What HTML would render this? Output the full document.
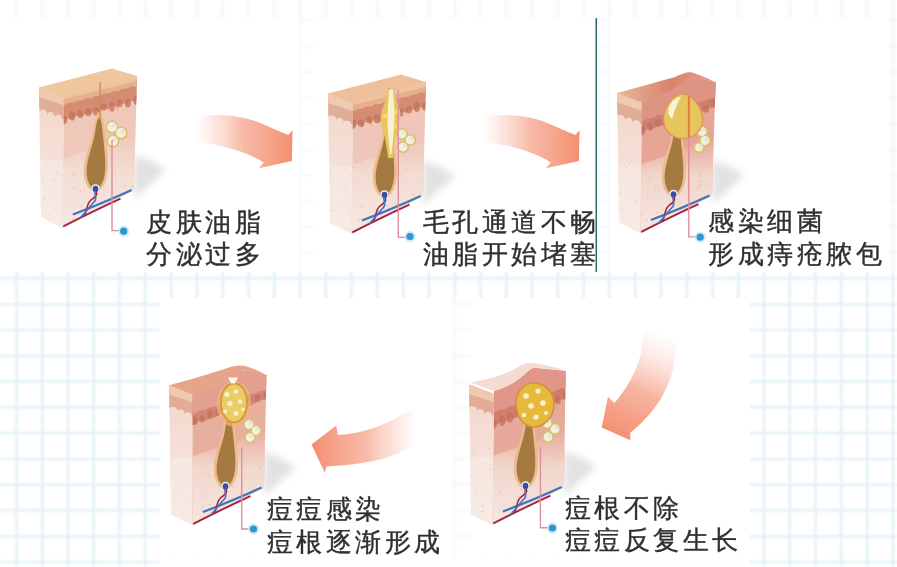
<!DOCTYPE html>
<html><head><meta charset="utf-8"><style>
html,body{margin:0;padding:0}
body{width:897px;height:567px;overflow:hidden;position:relative;background:#fff;font-family:"Liberation Sans",sans-serif}
.t{position:absolute;font-size:26px;line-height:32.5px;letter-spacing:3.6px;color:#303030;-webkit-text-stroke:0.4px #303030;white-space:nowrap}
svg{position:absolute;left:0;top:0}
</style></head><body>
<svg width="897" height="567" viewBox="0 0 897 567">
<defs>
<linearGradient id="leftface" x1="0" y1="0" x2="0" y2="1"><stop offset="0" stop-color="#f3d6ca"/><stop offset="1" stop-color="#f7ebe5"/></linearGradient>
<linearGradient id="frontface" x1="0" y1="0" x2="0" y2="1"><stop offset="0" stop-color="#eec0b2"/><stop offset="0.6" stop-color="#f1cdc0"/><stop offset="1" stop-color="#f4e0d6"/></linearGradient>
<linearGradient id="arrowH" gradientUnits="userSpaceOnUse" x1="195" y1="0" x2="292" y2="0"><stop offset="0" stop-color="#f9c8b8" stop-opacity="0"/><stop offset="0.2" stop-color="#f8bba8" stop-opacity="0.35"/><stop offset="0.5" stop-color="#f6a890" stop-opacity="0.8"/><stop offset="1" stop-color="#f38f70"/></linearGradient>
<linearGradient id="arrowD" gradientUnits="userSpaceOnUse" x1="662" y1="332" x2="615" y2="435"><stop offset="0" stop-color="#f9c8b8" stop-opacity="0"/><stop offset="0.25" stop-color="#f8bba8" stop-opacity="0.35"/><stop offset="0.55" stop-color="#f6a890" stop-opacity="0.85"/><stop offset="1" stop-color="#f38f70"/></linearGradient>
<linearGradient id="arrowL" gradientUnits="userSpaceOnUse" x1="418" y1="0" x2="312" y2="0"><stop offset="0" stop-color="#f9c8b8" stop-opacity="0"/><stop offset="0.2" stop-color="#f8bba8" stop-opacity="0.35"/><stop offset="0.5" stop-color="#f6a890" stop-opacity="0.8"/><stop offset="1" stop-color="#f38f70"/></linearGradient>
<linearGradient id="lowerderm" x1="0" y1="0" x2="0" y2="1"><stop offset="0" stop-color="#f3ddd3" stop-opacity="0"/><stop offset="0.35" stop-color="#f4e2d9" stop-opacity="0.8"/><stop offset="1" stop-color="#f7ebe5"/></linearGradient>
<linearGradient id="shadow" x1="0" y1="0" x2="1" y2="0"><stop offset="0" stop-color="#9a9a9a" stop-opacity="0.7"/><stop offset="1" stop-color="#cfcfcf" stop-opacity="0"/></linearGradient>
<filter id="blur5" x="-50%" y="-50%" width="200%" height="200%"><feGaussianBlur stdDeviation="5"/></filter>
<filter id="blur35" x="-50%" y="-50%" width="200%" height="200%"><feGaussianBlur stdDeviation="3.5"/></filter>
<filter id="blur4" x="-50%" y="-50%" width="200%" height="200%"><feGaussianBlur stdDeviation="4"/></filter>
<filter id="blurA" x="-10%" y="-10%" width="120%" height="120%"><feGaussianBlur stdDeviation="0.7"/></filter>
<filter id="blurB" x="-5%" y="-5%" width="110%" height="110%"><feGaussianBlur stdDeviation="0.45"/></filter>
<filter id="blur1"><feGaussianBlur stdDeviation="0.8"/></filter>
</defs>
<g fill="#e0f0f8" filter="url(#blur1)"><rect x="15.3" y="0" width="2.3" height="567"/><rect x="41.1" y="0" width="2.3" height="567"/><rect x="66.9" y="0" width="2.3" height="567"/><rect x="92.6" y="0" width="2.3" height="567"/><rect x="118.4" y="0" width="2.3" height="567"/><rect x="144.2" y="0" width="2.3" height="567"/><rect x="170.0" y="0" width="2.3" height="567"/><rect x="195.8" y="0" width="2.3" height="567"/><rect x="221.5" y="0" width="2.3" height="567"/><rect x="247.3" y="0" width="2.3" height="567"/><rect x="273.1" y="0" width="2.3" height="567"/><rect x="298.9" y="0" width="2.3" height="567"/><rect x="324.7" y="0" width="2.3" height="567"/><rect x="350.4" y="0" width="2.3" height="567"/><rect x="376.2" y="0" width="2.3" height="567"/><rect x="402.0" y="0" width="2.3" height="567"/><rect x="427.8" y="0" width="2.3" height="567"/><rect x="453.6" y="0" width="2.3" height="567"/><rect x="479.3" y="0" width="2.3" height="567"/><rect x="505.1" y="0" width="2.3" height="567"/><rect x="530.9" y="0" width="2.3" height="567"/><rect x="556.7" y="0" width="2.3" height="567"/><rect x="582.5" y="0" width="2.3" height="567"/><rect x="608.2" y="0" width="2.3" height="567"/><rect x="634.0" y="0" width="2.3" height="567"/><rect x="659.8" y="0" width="2.3" height="567"/><rect x="685.6" y="0" width="2.3" height="567"/><rect x="711.4" y="0" width="2.3" height="567"/><rect x="737.1" y="0" width="2.3" height="567"/><rect x="762.9" y="0" width="2.3" height="567"/><rect x="788.7" y="0" width="2.3" height="567"/><rect x="814.5" y="0" width="2.3" height="567"/><rect x="840.3" y="0" width="2.3" height="567"/><rect x="866.0" y="0" width="2.3" height="567"/><rect x="891.8" y="0" width="2.3" height="567"/><rect x="0" y="19.5" width="897" height="2.3"/><rect x="0" y="45.3" width="897" height="2.3"/><rect x="0" y="71.1" width="897" height="2.3"/><rect x="0" y="96.8" width="897" height="2.3"/><rect x="0" y="122.6" width="897" height="2.3"/><rect x="0" y="148.4" width="897" height="2.3"/><rect x="0" y="174.2" width="897" height="2.3"/><rect x="0" y="200.0" width="897" height="2.3"/><rect x="0" y="225.7" width="897" height="2.3"/><rect x="0" y="251.5" width="897" height="2.3"/><rect x="0" y="277.3" width="897" height="2.3"/><rect x="0" y="303.1" width="897" height="2.3"/><rect x="0" y="328.9" width="897" height="2.3"/><rect x="0" y="354.6" width="897" height="2.3"/><rect x="0" y="380.4" width="897" height="2.3"/><rect x="0" y="406.2" width="897" height="2.3"/><rect x="0" y="432.0" width="897" height="2.3"/><rect x="0" y="457.8" width="897" height="2.3"/><rect x="0" y="483.5" width="897" height="2.3"/><rect x="0" y="509.3" width="897" height="2.3"/><rect x="0" y="535.1" width="897" height="2.3"/><rect x="0" y="560.9" width="897" height="2.3"/></g>
<g fill="#ffffff">
<rect x="0" y="18" width="299" height="254"/>
<rect x="313" y="18" width="283" height="254"/>
<rect x="611" y="18" width="278" height="254"/>
<rect x="160" y="298" width="292" height="258"/>
<rect x="470" y="298" width="280" height="258"/>
</g>
<g fill="#ffffff" opacity="0.6">
<rect x="299" y="18" width="14" height="254"/>
<rect x="597" y="18" width="14" height="254"/>
<rect x="452" y="298" width="18" height="258"/>
</g>
<g fill="#ffffff" opacity="0.8">
<rect x="160" y="556" width="590" height="11"/>
</g>
<g fill="#ffffff" opacity="0.45">
<rect x="0" y="0" width="897" height="18"/>
<rect x="889" y="18" width="8" height="254"/>
</g>
<rect x="595.5" y="18" width="1.5" height="254" fill="#2f6a68"/>
<g transform="translate(0,0)" filter="url(#blurA)"><path d="M193,117 C220,112.5 246,116 266,125.5 C276,130 283,132.8 288.3,134.9 L292.5,130.2 L291.9,160.9 L258.9,168.3 L263.7,162.5 C252,155 236,149 214,144.5 C208,143.5 200,143 193,142.6 Z" fill="url(#arrowH)"/></g><g transform="translate(287,0)" filter="url(#blurA)"><path d="M193,117 C220,112.5 246,116 266,125.5 C276,130 283,132.8 288.3,134.9 L292.5,130.2 L291.9,160.9 L258.9,168.3 L263.7,162.5 C252,155 236,149 214,144.5 C208,143.5 200,143 193,142.6 Z" fill="url(#arrowH)"/></g>
<path filter="url(#blurA)" d="M677,330 C678,372 665,405 630.3,432.8 L630.3,440.2 L601.7,427.5 L608,396.7 L614.4,403.1 C630,385 643,362 644,330 Z" fill="url(#arrowD)"/>
<path filter="url(#blurA)" d="M418,404.6 C395,420 372,433 337.9,435 L336.2,425.5 L311.5,444.4 L324.7,472.6 L326.5,466.4 C365,465 395,458 416,444.3 Z" fill="url(#arrowL)"/>
<g filter="url(#blurB)"><g transform="translate(0,0)"><path d="M134,154 L152,161 L166,170 L134,199 Z" fill="#b4b4b4" opacity="0.38" filter="url(#blur35)"/><defs><clipPath id="ff1"><path d="M64,97 L137,76 L134,190 L62.5,228 Z"/></clipPath><clipPath id="lf1"><path d="M39,87.5 L64,97 L62.5,228 L41,217 Z"/></clipPath></defs><path d="M39,87.5 L64,97 L62.5,228 L41,217 Z" fill="url(#leftface)"/><g clip-path="url(#lf1)"><path d="M36,84 L66,95 L66,118 C64.1,116.0 61.1,120.5 62.2,120.5 C63.4,120.5 60.4,113.2 58.5,115.2 C56.6,113.2 53.6,118.5 54.8,118.5 C55.9,118.5 52.9,110.5 51.0,112.5 C49.1,110.5 46.1,115.4 47.2,115.4 C48.4,115.4 45.4,107.8 43.5,109.8 C41.6,107.8 38.6,113.2 39.8,113.2 C40.9,113.2 37.9,105.0 36.0,107.0 Z" fill="#e2ad98"/><path d="M36,84 L66,95 L66,106 L36,96 Z" fill="#efcaae"/><rect x="36" y="160" width="30" height="80" fill="#f7ebe5" opacity="0.6"/></g><g fill="#e2c6ba" opacity="0.7" clip-path="url(#lf1)"><circle cx="47.1" cy="161.8" r="0.7"/><circle cx="40.8" cy="191.8" r="0.6"/><circle cx="40.4" cy="189.6" r="0.4"/><circle cx="49.8" cy="155.4" r="0.5"/><circle cx="49.6" cy="214.5" r="0.5"/><circle cx="44.6" cy="198.9" r="0.9"/><circle cx="53.4" cy="180.9" r="0.9"/><circle cx="40.2" cy="217.0" r="0.6"/><circle cx="42.6" cy="159.2" r="0.6"/><circle cx="59.4" cy="164.1" r="0.7"/><circle cx="55.0" cy="179.0" r="0.7"/><circle cx="40.6" cy="154.6" r="0.5"/><circle cx="56.0" cy="183.4" r="0.6"/><circle cx="53.6" cy="185.3" r="0.6"/><circle cx="58.9" cy="204.5" r="0.5"/><circle cx="53.4" cy="191.0" r="0.8"/><circle cx="57.2" cy="172.5" r="0.9"/><circle cx="42.0" cy="182.6" r="0.8"/><circle cx="42.8" cy="188.1" r="0.4"/><circle cx="55.7" cy="209.6" r="0.7"/><circle cx="60.9" cy="174.5" r="0.8"/><circle cx="53.9" cy="195.2" r="0.6"/><circle cx="60.0" cy="223.7" r="0.7"/><circle cx="55.6" cy="154.7" r="0.8"/><circle cx="55.2" cy="227.5" r="0.8"/></g><path d="M64,97 L137,76 L134,190 L62.5,228 Z" fill="#f0c8ba"/><g clip-path="url(#ff1)"><path d="M60,160 L140,132 L140,240 L60,240 Z" fill="url(#lowerderm)"/><path d="M60,98 L140,76 L140,99 C137.8,97.0 134.2,105.4 135.6,105.4 C136.9,105.4 133.3,99.4 131.1,101.4 C128.9,99.4 125.3,107.2 126.7,107.2 C128.0,107.2 124.4,101.9 122.2,103.9 C120.0,101.9 116.4,110.5 117.8,110.5 C119.1,110.5 115.6,104.3 113.3,106.3 C111.1,104.3 107.6,110.9 108.9,110.9 C110.2,110.9 106.7,106.8 104.4,108.8 C102.2,106.8 98.7,115.3 100.0,115.3 C101.3,115.3 97.8,109.2 95.6,111.2 C93.3,109.2 89.8,116.8 91.1,116.8 C92.4,116.8 88.9,111.7 86.7,113.7 C84.4,111.7 80.9,120.0 82.2,120.0 C83.6,120.0 80.0,114.1 77.8,116.1 C75.6,114.1 72.0,121.0 73.3,121.0 C74.7,121.0 71.1,116.6 68.9,118.6 C66.7,116.6 63.1,124.0 64.4,124.0 C65.8,124.0 62.2,119.0 60.0,121.0 Z" fill="#d58c72"/><path d="M60,96 L140,74 L140,84 Q135.6,87.6 131.1,86.3 Q126.7,89.9 122.2,88.7 Q117.8,92.2 113.3,91.0 Q108.9,94.6 104.4,93.3 Q100.0,96.9 95.6,95.7 Q91.1,99.2 86.7,98.0 Q82.2,101.6 77.8,100.3 Q73.3,103.9 68.9,102.7 Q64.4,106.2 60.0,105.0 Z" fill="#e6b08a"/><path d="M60,92 L140,70 L140,80 L60,100 Z" fill="#eec49c"/><g fill="#c2735d" opacity="0.75"><ellipse cx="136.0" cy="99.8" rx="2.7" ry="4.9"/><ellipse cx="128.0" cy="103.1" rx="3.0" ry="4.5"/><ellipse cx="120.0" cy="103.1" rx="2.7" ry="3.9"/><ellipse cx="112.0" cy="106.8" rx="2.7" ry="5.0"/><ellipse cx="104.0" cy="107.1" rx="2.7" ry="3.6"/><ellipse cx="96.0" cy="111.4" rx="2.9" ry="4.2"/><ellipse cx="88.0" cy="112.3" rx="3.1" ry="4.1"/><ellipse cx="80.0" cy="114.1" rx="2.9" ry="4.0"/><ellipse cx="72.0" cy="116.0" rx="3.3" ry="4.5"/><ellipse cx="64.0" cy="119.9" rx="3.4" ry="4.1"/></g></g><g fill="#dfb6a8" opacity="0.7" clip-path="url(#ff1)"><circle cx="81.2" cy="206.6" r="0.8"/><circle cx="124.9" cy="172.6" r="0.5"/><circle cx="72.9" cy="175.3" r="0.8"/><circle cx="71.6" cy="196.1" r="0.5"/><circle cx="83.8" cy="189.3" r="0.8"/><circle cx="107.0" cy="161.0" r="0.6"/><circle cx="72.9" cy="219.2" r="0.8"/><circle cx="121.6" cy="216.2" r="0.8"/><circle cx="132.2" cy="214.0" r="0.5"/><circle cx="124.9" cy="193.1" r="0.8"/><circle cx="103.7" cy="189.2" r="0.6"/><circle cx="93.8" cy="181.3" r="0.5"/><circle cx="122.7" cy="214.3" r="0.9"/><circle cx="113.1" cy="197.7" r="0.8"/><circle cx="72.0" cy="206.0" r="0.6"/><circle cx="75.1" cy="173.8" r="0.7"/><circle cx="80.7" cy="191.2" r="0.7"/><circle cx="91.3" cy="168.9" r="0.7"/><circle cx="79.4" cy="176.0" r="0.5"/><circle cx="89.1" cy="165.0" r="0.7"/><circle cx="132.6" cy="186.5" r="0.8"/><circle cx="131.0" cy="162.9" r="0.5"/><circle cx="121.7" cy="217.0" r="0.7"/><circle cx="73.8" cy="188.1" r="0.8"/><circle cx="127.6" cy="214.6" r="0.5"/><circle cx="125.2" cy="185.5" r="0.8"/><circle cx="72.1" cy="226.0" r="0.7"/><circle cx="115.5" cy="174.4" r="0.7"/><circle cx="105.0" cy="200.2" r="0.6"/><circle cx="115.8" cy="183.2" r="0.6"/><circle cx="74.2" cy="206.5" r="0.5"/><circle cx="78.7" cy="164.7" r="0.7"/><circle cx="103.2" cy="196.9" r="0.4"/><circle cx="94.5" cy="183.3" r="0.5"/><circle cx="62.2" cy="227.9" r="0.5"/><circle cx="84.3" cy="178.3" r="0.7"/><circle cx="67.7" cy="192.0" r="0.6"/><circle cx="123.8" cy="160.4" r="0.6"/><circle cx="98.7" cy="225.9" r="0.7"/><circle cx="97.1" cy="205.5" r="0.6"/></g><path d="M39,87.5 L112,68.5 L137,76 L64,97 Z" fill="#efc69e"/><path d="M99,112 C103,112 104,122 105,132 C107,148 109,162 107.6,172 C106.5,184 101,191.5 95.5,191.5 C89.5,191.5 84,184 83.8,172 C83.6,158 90,146 93,132 C95,122 96,112 99,112 Z" fill="#edbb8e"/><path d="M99,118 C101.5,118 102,126 102.8,134 C104.5,150 106,162 105,172 C104,182 100,188.5 95.5,188.5 C90.5,188.5 86.8,182 86.6,172 C86.4,160 92,148 94.8,134 C96.2,126 97,118 99,118 Z" fill="#a47a40"/><path d="M99.5,82 L101,82 L101,120 L99.5,120 Z" fill="#c98a50" opacity="0.8"/><ellipse cx="95.5" cy="188.5" rx="4" ry="4.2" fill="#e9eef6"/><ellipse cx="95.5" cy="189" rx="2.8" ry="3.2" fill="#34509e"/><g fill="#f1ead2" stroke="#d9c06e" stroke-width="2.2"><circle cx="112" cy="127" r="5.5"/><circle cx="121" cy="133" r="5.5"/><circle cx="113" cy="141" r="5.5"/></g><g fill="#f4eedb"><circle cx="112" cy="127" r="4.9"/><circle cx="121" cy="133" r="4.9"/><circle cx="113" cy="141" r="4.9"/></g><g fill="#dfe6e2"><circle cx="113.5" cy="125.5" r="2"/><circle cx="122.5" cy="131.5" r="2"/><circle cx="114.5" cy="139.5" r="2"/></g><path d="M63.3,226.4 C80,218 100,208 120.5,198.7" stroke="#a8243a" stroke-width="1.9" fill="none"/><path d="M72.9,214.5 C95,206 114,198 131.6,189.9" stroke="#3f73bf" stroke-width="2.2" fill="none"/><path d="M84,216 C88,210 86,204 91,200 C95,197 98,195 96,191" stroke="#a8243a" stroke-width="1.6" fill="none"/><path d="M80,218 C86,212 90,206 94,202 C98,198 94,195 95,191" stroke="#4172c0" stroke-width="1.6" fill="none"/></g><path d="M112,140 L112,230.6 L119.7,230.6" stroke="#e08e9a" stroke-width="1.4" fill="none"/><circle cx="123.7" cy="231.2" r="5.5" fill="#bfe6f7" opacity="0.8"/><circle cx="123.7" cy="231.2" r="3.6" fill="#2f97d0"/><g transform="translate(289,6)"><path d="M134,154 L152,161 L166,170 L134,199 Z" fill="#b4b4b4" opacity="0.38" filter="url(#blur35)"/><defs><clipPath id="ff2"><path d="M64,97 L137,76 L134,190 L62.5,228 Z"/></clipPath><clipPath id="lf2"><path d="M39,87.5 L64,97 L62.5,228 L41,217 Z"/></clipPath></defs><path d="M39,87.5 L64,97 L62.5,228 L41,217 Z" fill="url(#leftface)"/><g clip-path="url(#lf2)"><path d="M36,84 L66,95 L66,118 C64.1,116.0 61.1,119.2 62.2,119.2 C63.4,119.2 60.4,113.2 58.5,115.2 C56.6,113.2 53.6,116.8 54.8,116.8 C55.9,116.8 52.9,110.5 51.0,112.5 C49.1,110.5 46.1,113.8 47.2,113.8 C48.4,113.8 45.4,107.8 43.5,109.8 C41.6,107.8 38.6,112.1 39.8,112.1 C40.9,112.1 37.9,105.0 36.0,107.0 Z" fill="#e2ad98"/><path d="M36,84 L66,95 L66,106 L36,96 Z" fill="#efcaae"/><rect x="36" y="160" width="30" height="80" fill="#f7ebe5" opacity="0.6"/></g><g fill="#e2c6ba" opacity="0.7" clip-path="url(#lf2)"><circle cx="41.7" cy="204.8" r="0.7"/><circle cx="62.5" cy="171.1" r="0.5"/><circle cx="57.4" cy="201.4" r="0.6"/><circle cx="56.1" cy="180.9" r="0.8"/><circle cx="42.0" cy="167.4" r="0.9"/><circle cx="48.0" cy="170.3" r="0.8"/><circle cx="54.8" cy="161.7" r="0.7"/><circle cx="55.6" cy="162.9" r="0.7"/><circle cx="42.1" cy="176.3" r="0.5"/><circle cx="44.1" cy="226.3" r="0.6"/><circle cx="63.8" cy="184.2" r="0.7"/><circle cx="60.8" cy="203.6" r="0.5"/><circle cx="53.7" cy="199.4" r="0.5"/><circle cx="41.4" cy="218.2" r="0.7"/><circle cx="43.8" cy="185.3" r="0.5"/><circle cx="59.0" cy="189.0" r="0.5"/><circle cx="59.5" cy="157.0" r="0.6"/><circle cx="39.7" cy="207.7" r="0.5"/><circle cx="52.1" cy="157.3" r="0.7"/><circle cx="56.1" cy="191.7" r="0.6"/><circle cx="51.1" cy="184.1" r="0.7"/><circle cx="41.4" cy="187.0" r="0.5"/><circle cx="60.6" cy="223.2" r="0.5"/><circle cx="42.6" cy="204.9" r="0.7"/><circle cx="39.5" cy="205.0" r="0.9"/></g><path d="M64,97 L137,76 L134,190 L62.5,228 Z" fill="#efc6b8"/><g clip-path="url(#ff2)"><path d="M60,160 L140,132 L140,240 L60,240 Z" fill="url(#lowerderm)"/><path d="M60,98 L140,76 L140,99 C137.8,97.0 134.2,105.5 135.6,105.5 C136.9,105.5 133.3,99.4 131.1,101.4 C128.9,99.4 125.3,106.1 126.7,106.1 C128.0,106.1 124.4,101.9 122.2,103.9 C120.0,101.9 116.4,108.8 117.8,108.8 C119.1,108.8 115.6,104.3 113.3,106.3 C111.1,104.3 107.6,112.6 108.9,112.6 C110.2,112.6 106.7,106.8 104.4,108.8 C102.2,106.8 98.7,114.2 100.0,114.2 C101.3,114.2 97.8,109.2 95.6,111.2 C93.3,109.2 89.8,118.5 91.1,118.5 C92.4,118.5 88.9,111.7 86.7,113.7 C84.4,111.7 80.9,120.5 82.2,120.5 C83.6,120.5 80.0,114.1 77.8,116.1 C75.6,114.1 72.0,123.2 73.3,123.2 C74.7,123.2 71.1,116.6 68.9,118.6 C66.7,116.6 63.1,124.2 64.4,124.2 C65.8,124.2 62.2,119.0 60.0,121.0 Z" fill="#d58c72"/><path d="M60,96 L140,74 L140,84 Q135.6,87.6 131.1,86.3 Q126.7,89.9 122.2,88.7 Q117.8,92.2 113.3,91.0 Q108.9,94.6 104.4,93.3 Q100.0,96.9 95.6,95.7 Q91.1,99.2 86.7,98.0 Q82.2,101.6 77.8,100.3 Q73.3,103.9 68.9,102.7 Q64.4,106.2 60.0,105.0 Z" fill="#e6b08a"/><path d="M60,92 L140,70 L140,80 L60,100 Z" fill="#eec49c"/><g fill="#c2735d" opacity="0.75"><ellipse cx="136.0" cy="100.4" rx="3.1" ry="4.1"/><ellipse cx="128.0" cy="100.9" rx="3.2" ry="5.0"/><ellipse cx="120.0" cy="103.8" rx="3.4" ry="3.6"/><ellipse cx="112.0" cy="106.3" rx="2.7" ry="4.2"/><ellipse cx="104.0" cy="108.7" rx="3.4" ry="4.3"/><ellipse cx="96.0" cy="111.7" rx="2.8" ry="3.7"/><ellipse cx="88.0" cy="112.7" rx="3.2" ry="4.6"/><ellipse cx="80.0" cy="113.6" rx="2.7" ry="3.9"/><ellipse cx="72.0" cy="117.1" rx="3.4" ry="3.9"/><ellipse cx="64.0" cy="118.0" rx="3.4" ry="4.8"/></g></g><g fill="#dfb6a8" opacity="0.7" clip-path="url(#ff2)"><circle cx="117.3" cy="173.8" r="0.5"/><circle cx="106.5" cy="163.9" r="0.8"/><circle cx="118.6" cy="162.8" r="0.8"/><circle cx="99.2" cy="203.2" r="0.9"/><circle cx="135.0" cy="187.8" r="0.8"/><circle cx="120.2" cy="226.1" r="0.4"/><circle cx="131.4" cy="175.1" r="0.5"/><circle cx="106.2" cy="217.0" r="0.9"/><circle cx="89.0" cy="216.3" r="0.4"/><circle cx="133.7" cy="180.0" r="0.7"/><circle cx="71.2" cy="163.0" r="0.4"/><circle cx="106.4" cy="198.2" r="0.8"/><circle cx="125.0" cy="188.8" r="0.8"/><circle cx="76.9" cy="219.9" r="0.5"/><circle cx="131.5" cy="186.1" r="0.6"/><circle cx="100.4" cy="164.0" r="0.5"/><circle cx="102.3" cy="208.6" r="0.4"/><circle cx="92.1" cy="185.2" r="0.8"/><circle cx="135.3" cy="166.2" r="0.7"/><circle cx="69.7" cy="213.3" r="0.9"/><circle cx="114.3" cy="199.5" r="0.4"/><circle cx="69.1" cy="176.3" r="0.5"/><circle cx="71.9" cy="225.2" r="0.6"/><circle cx="129.1" cy="211.7" r="0.8"/><circle cx="129.6" cy="207.5" r="0.6"/><circle cx="96.8" cy="186.5" r="0.4"/><circle cx="65.3" cy="198.6" r="0.7"/><circle cx="134.0" cy="202.2" r="0.8"/><circle cx="97.3" cy="199.6" r="0.8"/><circle cx="64.5" cy="161.3" r="0.6"/><circle cx="83.6" cy="189.1" r="0.5"/><circle cx="74.5" cy="166.7" r="0.7"/><circle cx="64.4" cy="161.4" r="0.8"/><circle cx="93.3" cy="161.5" r="0.9"/><circle cx="98.3" cy="223.7" r="0.7"/><circle cx="102.5" cy="186.9" r="0.5"/><circle cx="133.5" cy="189.9" r="0.6"/><circle cx="72.8" cy="200.5" r="0.9"/><circle cx="91.7" cy="214.9" r="0.8"/><circle cx="100.1" cy="204.4" r="0.8"/></g><path d="M39,87.5 L112,68.5 L137,76 L64,97 Z" fill="#eebf9b"/><path d="M99,112 C103,112 104,122 105,132 C107,148 109,162 107.6,172 C106.5,184 101,191.5 95.5,191.5 C89.5,191.5 84,184 83.8,172 C83.6,158 90,146 93,132 C95,122 96,112 99,112 Z" fill="#edbb8e"/><path d="M99,118 C101.5,118 102,126 102.8,134 C104.5,150 106,162 105,172 C104,182 100,188.5 95.5,188.5 C90.5,188.5 86.8,182 86.6,172 C86.4,160 92,148 94.8,134 C96.2,126 97,118 99,118 Z" fill="#a47a40"/><path d="M99.5,82 L101,82 L101,120 L99.5,120 Z" fill="#c98a50" opacity="0.8"/><ellipse cx="95.5" cy="188.5" rx="4" ry="4.2" fill="#e9eef6"/><ellipse cx="95.5" cy="189" rx="2.8" ry="3.2" fill="#34509e"/><g fill="#f1ead2" stroke="#d9c06e" stroke-width="2.2"><circle cx="113" cy="128" r="5"/><circle cx="121" cy="134" r="5"/><circle cx="114" cy="141" r="5"/></g><g fill="#f4eedb"><circle cx="113" cy="128" r="4.4"/><circle cx="121" cy="134" r="4.4"/><circle cx="114" cy="141" r="4.4"/></g><g fill="#dfe6e2"><circle cx="114.5" cy="126.5" r="2"/><circle cx="122.5" cy="132.5" r="2"/><circle cx="115.5" cy="139.5" r="2"/></g><path d="M99,84 C101,82 104,82 105,84 C106,92 109,98 111,104 C112,110 110,118 108,124 C106,132 105,142 104,152 L99,152 C98,142 96,132 94,124 C92,118 91,110 93,104 C95,98 98,92 99,84 Z" fill="#e8c65a"/><path d="M100,84 C101,83 103,83 104,84 C104.5,94 106,104 105.5,114 C105,126 103.5,138 102.5,148 L101,148 C100,138 98.5,126 98.5,114 C98.5,104 99.5,94 100,84 Z" fill="#f8f0d0"/><g fill="#f3dd8c"><circle cx="96" cy="110" r="2"/><circle cx="108" cy="106" r="2"/><circle cx="106" cy="120" r="1.8"/></g><path d="M63.3,226.4 C80,218 100,208 120.5,198.7" stroke="#a8243a" stroke-width="1.9" fill="none"/><path d="M72.9,214.5 C95,206 114,198 131.6,189.9" stroke="#3f73bf" stroke-width="2.2" fill="none"/><path d="M84,216 C88,210 86,204 91,200 C95,197 98,195 96,191" stroke="#a8243a" stroke-width="1.6" fill="none"/><path d="M80,218 C86,212 90,206 94,202 C98,198 94,195 95,191" stroke="#4172c0" stroke-width="1.6" fill="none"/></g><path d="M398.3,90 L398.3,237.4 L406,237.4" stroke="#e08e9a" stroke-width="1.4" fill="none"/><circle cx="410" cy="236.5" r="5.5" fill="#bfe6f7" opacity="0.8"/><circle cx="410" cy="236.5" r="3.6" fill="#2f97d0"/><g transform="translate(578,5.5)"><path d="M134,154 L152,161 L166,170 L134,199 Z" fill="#b4b4b4" opacity="0.38" filter="url(#blur35)"/><defs><clipPath id="ff3"><path d="M64,97 C78,93 92,86 102,80 C108,74 112,71 116,72 C124,73 131,75 137.6,77 L134,190 L62.5,228 Z"/></clipPath><clipPath id="lf3"><path d="M39,87.5 L64,97 L62.5,228 L41,217 Z"/></clipPath></defs><path d="M39,87.5 L64,97 L62.5,228 L41,217 Z" fill="url(#leftface)"/><g clip-path="url(#lf3)"><path d="M36,84 L66,95 L66,118 C64.1,116.0 61.1,119.2 62.2,119.2 C63.4,119.2 60.4,113.2 58.5,115.2 C56.6,113.2 53.6,117.9 54.8,117.9 C55.9,117.9 52.9,110.5 51.0,112.5 C49.1,110.5 46.1,115.5 47.2,115.5 C48.4,115.5 45.4,107.8 43.5,109.8 C41.6,107.8 38.6,110.9 39.8,110.9 C40.9,110.9 37.9,105.0 36.0,107.0 Z" fill="#e2ad98"/><path d="M36,84 L66,95 L66,106 L36,96 Z" fill="#efcaae"/><rect x="36" y="160" width="30" height="80" fill="#f7ebe5" opacity="0.6"/></g><g fill="#e2c6ba" opacity="0.7" clip-path="url(#lf3)"><circle cx="43.1" cy="203.8" r="0.7"/><circle cx="51.0" cy="166.8" r="0.8"/><circle cx="59.2" cy="190.0" r="0.7"/><circle cx="44.9" cy="150.2" r="0.6"/><circle cx="53.6" cy="155.4" r="0.8"/><circle cx="44.8" cy="168.2" r="0.4"/><circle cx="63.9" cy="207.6" r="0.8"/><circle cx="54.4" cy="152.7" r="0.6"/><circle cx="51.4" cy="159.0" r="0.9"/><circle cx="48.2" cy="162.1" r="0.8"/><circle cx="42.1" cy="222.4" r="0.6"/><circle cx="52.8" cy="176.7" r="0.7"/><circle cx="43.7" cy="152.9" r="0.8"/><circle cx="44.9" cy="210.9" r="0.5"/><circle cx="63.2" cy="219.7" r="0.8"/><circle cx="58.1" cy="195.3" r="0.8"/><circle cx="42.1" cy="187.2" r="0.8"/><circle cx="44.0" cy="222.0" r="0.9"/><circle cx="49.2" cy="178.5" r="0.6"/><circle cx="48.6" cy="227.6" r="0.6"/><circle cx="39.7" cy="157.3" r="0.8"/><circle cx="63.8" cy="188.7" r="0.7"/><circle cx="52.8" cy="208.4" r="0.5"/><circle cx="54.2" cy="193.4" r="0.7"/><circle cx="43.5" cy="163.3" r="0.6"/></g><path d="M64,97 C78,93 92,86 102,80 C108,74 112,71 116,72 C124,73 131,75 137.6,77 L134,190 L62.5,228 Z" fill="#e6a595"/><g clip-path="url(#ff3)"><path d="M60,160 L140,132 L140,240 L60,240 Z" fill="url(#lowerderm)"/><path d="M60,96 C78,93 92,86 102,80 C108,74 112,71 116,72 C124,73 131,75 140,77 L140,98 Q135.0,104.8 130.0,101.5 Q125.0,108.2 120.0,105.0 Q115.0,111.8 110.0,108.5 Q105.0,115.2 100.0,112.0 Q95.0,118.8 90.0,115.5 Q85.0,122.2 80.0,119.0 Q75.0,125.8 70.0,122.5 Q65.0,129.2 60.0,126.0 Z" fill="#cf7f6e"/><path d="M60,96 C78,93 92,86 102,80 C108,74 112,71 116,72 C124,73 131,75 140,77 L140,90 Q135.0,94.0 130.0,93.2 Q125.0,97.3 120.0,96.5 Q115.0,100.5 110.0,99.8 Q105.0,103.8 100.0,103.0 Q95.0,107.0 90.0,106.2 Q85.0,110.3 80.0,109.5 Q75.0,113.5 70.0,112.8 Q65.0,116.8 60.0,116.0 Z" fill="#dc9483"/><g fill="#c2735d" opacity="0.75"><ellipse cx="136.0" cy="97.5" rx="3.5" ry="3.8"/><ellipse cx="128.0" cy="103.2" rx="3.4" ry="3.9"/><ellipse cx="120.0" cy="104.5" rx="2.9" ry="4.1"/><ellipse cx="112.0" cy="108.2" rx="3.3" ry="3.9"/><ellipse cx="104.0" cy="110.2" rx="3.2" ry="4.4"/><ellipse cx="96.0" cy="111.8" rx="2.9" ry="4.2"/><ellipse cx="88.0" cy="117.0" rx="3.3" ry="4.5"/><ellipse cx="80.0" cy="117.8" rx="3.4" ry="3.8"/><ellipse cx="72.0" cy="120.8" rx="2.7" ry="4.4"/><ellipse cx="64.0" cy="125.0" rx="3.2" ry="4.7"/></g></g><g fill="#dfb6a8" opacity="0.7" clip-path="url(#ff3)"><circle cx="77.5" cy="186.2" r="0.5"/><circle cx="91.3" cy="198.3" r="0.7"/><circle cx="80.8" cy="184.2" r="0.5"/><circle cx="122.3" cy="180.0" r="0.9"/><circle cx="67.5" cy="160.6" r="0.6"/><circle cx="93.2" cy="211.2" r="0.8"/><circle cx="100.0" cy="180.4" r="0.8"/><circle cx="96.1" cy="177.5" r="0.6"/><circle cx="62.0" cy="208.2" r="0.4"/><circle cx="75.9" cy="202.1" r="0.7"/><circle cx="107.8" cy="203.1" r="0.8"/><circle cx="131.9" cy="225.8" r="0.6"/><circle cx="88.0" cy="169.2" r="0.6"/><circle cx="74.8" cy="223.5" r="0.8"/><circle cx="79.4" cy="207.0" r="0.8"/><circle cx="69.3" cy="215.0" r="0.8"/><circle cx="97.0" cy="224.2" r="0.5"/><circle cx="64.5" cy="209.2" r="0.7"/><circle cx="62.3" cy="201.2" r="0.7"/><circle cx="90.0" cy="168.6" r="0.8"/><circle cx="128.0" cy="197.8" r="0.5"/><circle cx="102.1" cy="203.9" r="0.7"/><circle cx="121.4" cy="175.4" r="0.9"/><circle cx="115.1" cy="168.9" r="0.5"/><circle cx="119.6" cy="182.5" r="0.9"/><circle cx="130.9" cy="179.1" r="0.8"/><circle cx="78.1" cy="194.1" r="0.5"/><circle cx="121.1" cy="169.7" r="0.9"/><circle cx="88.8" cy="179.4" r="0.4"/><circle cx="77.6" cy="164.3" r="0.5"/><circle cx="134.5" cy="204.6" r="0.5"/><circle cx="69.9" cy="191.2" r="0.8"/><circle cx="95.6" cy="184.2" r="0.7"/><circle cx="71.3" cy="172.5" r="0.7"/><circle cx="123.7" cy="191.5" r="0.6"/><circle cx="101.7" cy="214.5" r="0.5"/><circle cx="73.1" cy="193.9" r="0.6"/><circle cx="72.8" cy="174.4" r="0.8"/><circle cx="77.0" cy="183.1" r="0.9"/><circle cx="89.6" cy="224.0" r="0.8"/></g><defs><linearGradient id="tg3" gradientUnits="userSpaceOnUse" x1="39" y1="0" x2="137" y2="0"><stop offset="0" stop-color="#eab79a"/><stop offset="0.55" stop-color="#d9826c"/><stop offset="1" stop-color="#e39e88"/></linearGradient></defs><path d="M39,87.5 C60,82 80,76 96,72 C104,68 110,66 114,67 C124,70 132,74 137.6,77 C131,75 124,73 116,72 C112,71 108,74 102,80 C92,86 78,93 64,97 Z" fill="url(#tg3)"/><path d="M99,112 C103,112 104,122 105,132 C107,148 109,162 107.6,172 C106.5,184 101,191.5 95.5,191.5 C89.5,191.5 84,184 83.8,172 C83.6,158 90,146 93,132 C95,122 96,112 99,112 Z" fill="#edbb8e"/><path d="M99,118 C101.5,118 102,126 102.8,134 C104.5,150 106,162 105,172 C104,182 100,188.5 95.5,188.5 C90.5,188.5 86.8,182 86.6,172 C86.4,160 92,148 94.8,134 C96.2,126 97,118 99,118 Z" fill="#a47a40"/><ellipse cx="95.5" cy="188.5" rx="4" ry="4.2" fill="#e9eef6"/><ellipse cx="95.5" cy="189" rx="2.8" ry="3.2" fill="#34509e"/><g fill="#f1ead2" stroke="#d9c06e" stroke-width="2.2"><circle cx="124" cy="126" r="5"/><circle cx="127" cy="135" r="5"/><circle cx="121" cy="142" r="4.5"/></g><g fill="#f4eedb"><circle cx="124" cy="126" r="4.4"/><circle cx="127" cy="135" r="4.4"/><circle cx="121" cy="142" r="3.9"/></g><g fill="#dfe6e2"><circle cx="125.5" cy="124.5" r="2"/><circle cx="128.5" cy="133.5" r="2"/><circle cx="122.5" cy="140.5" r="2"/></g><path d="M105,88.5 C114,89 123,100 124.5,112 C125.5,125 116,133 105,133 C94,133 85,125 85.5,112 C86.5,100 96,88 105,88.5 Z" fill="#e6c65c" stroke="#e0955a" stroke-width="1.4"/><path d="M90,108 C90,99 96,92 103,91 C99,98 96,106 94,114 Z" fill="#fbf3d8"/><path d="M63.3,226.4 C80,218 100,208 120.5,198.7" stroke="#a8243a" stroke-width="1.9" fill="none"/><path d="M72.9,214.5 C95,206 114,198 131.6,189.9" stroke="#3f73bf" stroke-width="2.2" fill="none"/><path d="M84,216 C88,210 86,204 91,200 C95,197 98,195 96,191" stroke="#a8243a" stroke-width="1.6" fill="none"/><path d="M80,218 C86,212 90,206 94,202 C98,198 94,195 95,191" stroke="#4172c0" stroke-width="1.6" fill="none"/></g><path d="M688.8,95.5 L688.8,236.9 L696.2,236.9" stroke="#e08e9a" stroke-width="1.4" fill="none"/><path d="M688.8,95.5 L688.8,137.5" stroke="#e27a3c" stroke-width="1.8" fill="none"/><circle cx="700.2" cy="237.2" r="5.5" fill="#bfe6f7" opacity="0.8"/><circle cx="700.2" cy="237.2" r="3.6" fill="#2f97d0"/><g transform="translate(130,297.5)"><path d="M134,154 L152,161 L166,170 L134,199 Z" fill="#b4b4b4" opacity="0.38" filter="url(#blur35)"/><defs><clipPath id="ff4"><path d="M62.7,97 C78,93 92,86 100,82 C106,76 110,73 114,73 C122,74 130,76 136.4,77.6 L134,190 L62.5,228 Z"/></clipPath><clipPath id="lf4"><path d="M39,87.5 L64,97 L62.5,228 L41,217 Z"/></clipPath></defs><path d="M39,87.5 L64,97 L62.5,228 L41,217 Z" fill="url(#leftface)"/><g clip-path="url(#lf4)"><path d="M36,84 L66,95 L66,118 C64.1,116.0 61.1,120.3 62.2,120.3 C63.4,120.3 60.4,113.2 58.5,115.2 C56.6,113.2 53.6,117.1 54.8,117.1 C55.9,117.1 52.9,110.5 51.0,112.5 C49.1,110.5 46.1,113.7 47.2,113.7 C48.4,113.7 45.4,107.8 43.5,109.8 C41.6,107.8 38.6,112.6 39.8,112.6 C40.9,112.6 37.9,105.0 36.0,107.0 Z" fill="#e2ad98"/><path d="M36,84 L66,95 L66,106 L36,96 Z" fill="#efcaae"/><rect x="36" y="160" width="30" height="80" fill="#f7ebe5" opacity="0.6"/></g><g fill="#e2c6ba" opacity="0.7" clip-path="url(#lf4)"><circle cx="41.8" cy="160.2" r="0.7"/><circle cx="43.5" cy="160.3" r="0.6"/><circle cx="49.4" cy="166.6" r="0.6"/><circle cx="60.1" cy="160.2" r="0.5"/><circle cx="39.7" cy="168.7" r="0.5"/><circle cx="63.6" cy="174.5" r="0.9"/><circle cx="42.2" cy="220.5" r="0.7"/><circle cx="56.3" cy="201.7" r="0.6"/><circle cx="44.8" cy="203.0" r="0.5"/><circle cx="39.3" cy="210.1" r="0.7"/><circle cx="45.5" cy="190.6" r="0.9"/><circle cx="46.0" cy="159.7" r="0.6"/><circle cx="43.2" cy="178.7" r="0.4"/><circle cx="58.1" cy="212.9" r="0.6"/><circle cx="48.4" cy="170.1" r="0.9"/><circle cx="60.9" cy="201.7" r="0.5"/><circle cx="43.3" cy="209.8" r="0.5"/><circle cx="56.2" cy="182.8" r="0.4"/><circle cx="43.9" cy="221.2" r="0.6"/><circle cx="55.9" cy="209.4" r="0.6"/><circle cx="51.5" cy="217.1" r="0.8"/><circle cx="52.0" cy="192.5" r="0.6"/><circle cx="49.7" cy="202.3" r="0.5"/><circle cx="60.6" cy="173.0" r="0.5"/><circle cx="63.1" cy="151.2" r="0.6"/></g><path d="M62.7,97 C78,93 92,86 100,82 C106,76 110,73 114,73 C122,74 130,76 136.4,77.6 L134,190 L62.5,228 Z" fill="#e8ae9e"/><g clip-path="url(#ff4)"><path d="M60,160 L140,132 L140,240 L60,240 Z" fill="url(#lowerderm)"/><path d="M60,96 C78,93 92,86 100,82 C106,76 110,73 114,73 C122,74 130,76 140,78 L140,98 Q135.0,104.8 130.0,101.5 Q125.0,108.2 120.0,105.0 Q115.0,111.8 110.0,108.5 Q105.0,115.2 100.0,112.0 Q95.0,118.8 90.0,115.5 Q85.0,122.2 80.0,119.0 Q75.0,125.8 70.0,122.5 Q65.0,129.2 60.0,126.0 Z" fill="#d3857a"/><path d="M60,96 C78,93 92,86 100,82 C106,76 110,73 114,73 C122,74 130,76 140,78 L140,90 Q135.0,94.0 130.0,93.2 Q125.0,97.3 120.0,96.5 Q115.0,100.5 110.0,99.8 Q105.0,103.8 100.0,103.0 Q95.0,107.0 90.0,106.2 Q85.0,110.3 80.0,109.5 Q75.0,113.5 70.0,112.8 Q65.0,116.8 60.0,116.0 Z" fill="#e3a08e"/><g fill="#c2735d" opacity="0.75"><ellipse cx="136.0" cy="97.7" rx="2.9" ry="3.5"/><ellipse cx="128.0" cy="100.5" rx="3.1" ry="4.0"/><ellipse cx="120.0" cy="104.2" rx="2.6" ry="4.8"/><ellipse cx="112.0" cy="107.8" rx="3.0" ry="4.3"/><ellipse cx="104.0" cy="109.1" rx="3.1" ry="4.6"/><ellipse cx="96.0" cy="112.0" rx="2.6" ry="4.3"/><ellipse cx="88.0" cy="114.6" rx="2.9" ry="3.9"/><ellipse cx="80.0" cy="117.1" rx="2.8" ry="4.7"/><ellipse cx="72.0" cy="121.4" rx="2.7" ry="3.6"/><ellipse cx="64.0" cy="122.9" rx="3.5" ry="4.6"/></g></g><g fill="#dfb6a8" opacity="0.7" clip-path="url(#ff4)"><circle cx="134.4" cy="163.7" r="0.8"/><circle cx="97.8" cy="224.0" r="0.6"/><circle cx="130.0" cy="170.8" r="0.9"/><circle cx="92.6" cy="172.5" r="0.6"/><circle cx="108.7" cy="162.3" r="0.6"/><circle cx="62.8" cy="164.7" r="0.5"/><circle cx="79.1" cy="178.7" r="0.8"/><circle cx="92.8" cy="218.3" r="0.9"/><circle cx="128.2" cy="224.4" r="0.7"/><circle cx="111.7" cy="219.9" r="0.7"/><circle cx="72.5" cy="195.4" r="0.7"/><circle cx="75.3" cy="166.3" r="0.5"/><circle cx="113.6" cy="215.2" r="0.7"/><circle cx="93.6" cy="161.9" r="0.4"/><circle cx="110.5" cy="196.0" r="0.6"/><circle cx="74.7" cy="168.4" r="0.5"/><circle cx="71.5" cy="200.8" r="0.6"/><circle cx="103.1" cy="189.2" r="0.7"/><circle cx="117.1" cy="213.1" r="0.5"/><circle cx="133.0" cy="218.0" r="0.8"/><circle cx="95.5" cy="224.7" r="0.8"/><circle cx="79.7" cy="206.7" r="0.8"/><circle cx="117.7" cy="221.2" r="0.7"/><circle cx="111.7" cy="165.2" r="0.7"/><circle cx="72.8" cy="209.2" r="0.9"/><circle cx="89.5" cy="164.8" r="0.4"/><circle cx="100.2" cy="170.6" r="0.8"/><circle cx="107.1" cy="194.0" r="0.7"/><circle cx="73.2" cy="191.2" r="0.4"/><circle cx="102.5" cy="214.0" r="0.5"/><circle cx="113.0" cy="227.6" r="0.6"/><circle cx="77.4" cy="177.2" r="0.8"/><circle cx="68.0" cy="212.8" r="0.5"/><circle cx="117.9" cy="220.3" r="0.8"/><circle cx="76.2" cy="197.3" r="0.6"/><circle cx="126.8" cy="180.1" r="0.5"/><circle cx="92.0" cy="165.9" r="0.5"/><circle cx="114.0" cy="182.2" r="0.5"/><circle cx="131.2" cy="177.7" r="0.8"/><circle cx="112.6" cy="197.8" r="0.7"/></g><path d="M39.2,87.7 C58,83 80,76 96,71 C104,68 108,68 112,68 C122,70 130,74 136.4,77.6 C130,76 122,74 114,73 C110,73 106,76 100,82 C92,86 78,93 62.7,97 Z" fill="#e6a58a"/><path d="M99,112 C103,112 104,122 105,132 C107,148 109,162 107.6,172 C106.5,184 101,191.5 95.5,191.5 C89.5,191.5 84,184 83.8,172 C83.6,158 90,146 93,132 C95,122 96,112 99,112 Z" fill="#edbb8e"/><path d="M99,118 C101.5,118 102,126 102.8,134 C104.5,150 106,162 105,172 C104,182 100,188.5 95.5,188.5 C90.5,188.5 86.8,182 86.6,172 C86.4,160 92,148 94.8,134 C96.2,126 97,118 99,118 Z" fill="#a47a40"/><ellipse cx="95.5" cy="188.5" rx="4" ry="4.2" fill="#e9eef6"/><ellipse cx="95.5" cy="189" rx="2.8" ry="3.2" fill="#34509e"/><g fill="#f1ead2" stroke="#d9c06e" stroke-width="2.2"><circle cx="119" cy="127" r="4.8"/><circle cx="126" cy="133" r="4.8"/><circle cx="120" cy="140" r="4.8"/></g><g fill="#f4eedb"><circle cx="119" cy="127" r="4.2"/><circle cx="126" cy="133" r="4.2"/><circle cx="120" cy="140" r="4.2"/></g><g fill="#dfe6e2"><circle cx="120.5" cy="125.5" r="2"/><circle cx="127.5" cy="131.5" r="2"/><circle cx="121.5" cy="138.5" r="2"/></g><ellipse cx="104" cy="106.5" rx="17.5" ry="23" fill="#eeb878" opacity="0.7"/><path d="M91,105 C91,93 97,86 104,86 C111,86 117,93 117,105 C117,117 111,125 104,125 C97,125 91,117 91,105 Z" fill="#e9cd66" stroke="#d9963e" stroke-width="2"/><path d="M98,80 L108,80 L105,86 L101,86 Z" fill="#fbf6ea"/><g fill="#fbf0c8"><circle cx="97" cy="97" r="2.6"/><circle cx="106" cy="94" r="2.3"/><circle cx="100" cy="106" r="2.6"/><circle cx="110" cy="104" r="2.3"/><circle cx="95" cy="114" r="2.1"/><circle cx="106" cy="116" r="2.4"/><circle cx="113" cy="112" r="1.8"/></g><path d="M63.3,226.4 C80,218 100,208 120.5,198.7" stroke="#a8243a" stroke-width="1.9" fill="none"/><path d="M72.9,214.5 C95,206 114,198 131.6,189.9" stroke="#3f73bf" stroke-width="2.2" fill="none"/><path d="M84,216 C88,210 86,204 91,200 C95,197 98,195 96,191" stroke="#a8243a" stroke-width="1.6" fill="none"/><path d="M80,218 C86,212 90,206 94,202 C98,198 94,195 95,191" stroke="#4172c0" stroke-width="1.6" fill="none"/></g><path d="M241.7,447.5 L241.7,529 L249.5,529" stroke="#e08e9a" stroke-width="1.4" fill="none"/><circle cx="253.5" cy="529" r="5.5" fill="#bfe6f7" opacity="0.8"/><circle cx="253.5" cy="529" r="3.6" fill="#2f97d0"/><g transform="translate(430,297)"><path d="M134,154 L152,161 L166,170 L134,199 Z" fill="#b4b4b4" opacity="0.38" filter="url(#blur35)"/><defs><clipPath id="ff5"><path d="M64.3,94 C76,91 88,84 96,76 C100,72 102,70.6 106,71 C116,72 126,73 135.6,74 L134,190 L62.5,228 Z"/></clipPath><clipPath id="lf5"><path d="M39,87.5 L64,97 L62.5,228 L41,217 Z"/></clipPath></defs><path d="M39,87.5 L64,97 L62.5,228 L41,217 Z" fill="url(#leftface)"/><g clip-path="url(#lf5)"><path d="M36,84 L66,95 L66,118 C64.1,116.0 61.1,120.2 62.2,120.2 C63.4,120.2 60.4,113.2 58.5,115.2 C56.6,113.2 53.6,118.1 54.8,118.1 C55.9,118.1 52.9,110.5 51.0,112.5 C49.1,110.5 46.1,114.5 47.2,114.5 C48.4,114.5 45.4,107.8 43.5,109.8 C41.6,107.8 38.6,111.3 39.8,111.3 C40.9,111.3 37.9,105.0 36.0,107.0 Z" fill="#e2ad98"/><path d="M36,84 L66,95 L66,106 L36,96 Z" fill="#efcaae"/><rect x="36" y="160" width="30" height="80" fill="#f7ebe5" opacity="0.6"/></g><g fill="#e2c6ba" opacity="0.7" clip-path="url(#lf5)"><circle cx="52.7" cy="208.5" r="0.8"/><circle cx="60.6" cy="172.3" r="0.9"/><circle cx="53.2" cy="208.3" r="0.8"/><circle cx="62.2" cy="171.4" r="0.6"/><circle cx="56.9" cy="195.7" r="0.8"/><circle cx="48.1" cy="224.5" r="0.4"/><circle cx="57.0" cy="179.2" r="0.4"/><circle cx="55.9" cy="154.0" r="0.5"/><circle cx="47.1" cy="162.2" r="0.5"/><circle cx="40.8" cy="216.0" r="0.5"/><circle cx="43.0" cy="156.0" r="0.9"/><circle cx="52.6" cy="214.2" r="0.9"/><circle cx="51.4" cy="180.8" r="0.6"/><circle cx="45.6" cy="196.4" r="0.9"/><circle cx="51.6" cy="209.0" r="0.9"/><circle cx="59.8" cy="202.3" r="0.7"/><circle cx="41.4" cy="179.4" r="0.8"/><circle cx="50.1" cy="203.1" r="0.5"/><circle cx="53.6" cy="167.1" r="0.8"/><circle cx="59.3" cy="151.4" r="0.7"/><circle cx="41.4" cy="224.0" r="0.5"/><circle cx="42.2" cy="219.6" r="0.7"/><circle cx="39.3" cy="186.3" r="0.8"/><circle cx="43.1" cy="208.7" r="0.6"/><circle cx="50.0" cy="180.9" r="0.4"/></g><path d="M64.3,94 C76,91 88,84 96,76 C100,72 102,70.6 106,71 C116,72 126,73 135.6,74 L134,190 L62.5,228 Z" fill="#e7a999"/><g clip-path="url(#ff5)"><path d="M60,160 L140,132 L140,240 L60,240 Z" fill="url(#lowerderm)"/><path d="M60,94 C76,91 88,84 96,76 C100,72 102,70.6 106,71 C116,72 126,73 140,74 L140,98 Q135.0,104.9 130.0,101.8 Q125.0,108.6 120.0,105.5 Q115.0,112.4 110.0,109.2 Q105.0,116.1 100.0,113.0 Q95.0,119.9 90.0,116.8 Q85.0,123.6 80.0,120.5 Q75.0,127.4 70.0,124.2 Q65.0,131.1 60.0,128.0 Z" fill="#d07d6a"/><path d="M60,94 C76,91 88,84 96,76 C100,72 102,70.6 106,71 C116,72 126,73 140,74 L140,88 Q135.0,92.2 130.0,91.5 Q125.0,95.7 120.0,95.0 Q115.0,99.2 110.0,98.5 Q105.0,102.7 100.0,102.0 Q95.0,106.2 90.0,105.5 Q85.0,109.7 80.0,109.0 Q75.0,113.2 70.0,112.5 Q65.0,116.7 60.0,116.0 Z" fill="#e2968a"/><g fill="#c2735d" opacity="0.75"><ellipse cx="136.0" cy="97.9" rx="3.3" ry="3.9"/><ellipse cx="128.0" cy="102.6" rx="2.8" ry="4.7"/><ellipse cx="120.0" cy="105.4" rx="2.6" ry="4.9"/><ellipse cx="112.0" cy="109.0" rx="2.9" ry="4.3"/><ellipse cx="104.0" cy="111.7" rx="3.2" ry="4.8"/><ellipse cx="96.0" cy="115.4" rx="3.4" ry="3.9"/><ellipse cx="88.0" cy="115.6" rx="2.8" ry="3.8"/><ellipse cx="80.0" cy="120.8" rx="3.3" ry="5.0"/><ellipse cx="72.0" cy="124.1" rx="3.3" ry="5.0"/><ellipse cx="64.0" cy="126.7" rx="2.9" ry="4.7"/></g></g><g fill="#dfb6a8" opacity="0.7" clip-path="url(#ff5)"><circle cx="92.7" cy="179.6" r="0.8"/><circle cx="94.8" cy="196.0" r="0.7"/><circle cx="87.1" cy="203.5" r="0.9"/><circle cx="67.3" cy="198.1" r="0.5"/><circle cx="110.5" cy="202.4" r="0.4"/><circle cx="70.4" cy="195.9" r="0.8"/><circle cx="121.0" cy="216.0" r="0.5"/><circle cx="87.9" cy="199.2" r="0.6"/><circle cx="79.1" cy="222.7" r="0.7"/><circle cx="91.5" cy="192.4" r="0.8"/><circle cx="118.2" cy="213.0" r="0.6"/><circle cx="133.6" cy="211.9" r="0.6"/><circle cx="74.7" cy="189.2" r="0.5"/><circle cx="126.9" cy="160.6" r="0.8"/><circle cx="74.0" cy="215.2" r="0.6"/><circle cx="71.8" cy="227.0" r="0.6"/><circle cx="134.4" cy="181.9" r="0.5"/><circle cx="103.1" cy="173.2" r="0.7"/><circle cx="114.3" cy="203.6" r="0.4"/><circle cx="111.4" cy="178.2" r="0.6"/><circle cx="125.5" cy="218.9" r="0.5"/><circle cx="68.8" cy="211.2" r="0.6"/><circle cx="114.4" cy="204.0" r="0.9"/><circle cx="125.7" cy="227.7" r="0.9"/><circle cx="104.1" cy="187.7" r="0.5"/><circle cx="124.1" cy="193.5" r="0.7"/><circle cx="83.7" cy="182.5" r="0.7"/><circle cx="109.6" cy="181.1" r="0.5"/><circle cx="106.0" cy="224.2" r="0.7"/><circle cx="134.4" cy="172.3" r="0.8"/><circle cx="101.8" cy="162.2" r="0.5"/><circle cx="115.3" cy="215.7" r="0.5"/><circle cx="112.6" cy="220.3" r="0.5"/><circle cx="123.3" cy="170.5" r="0.5"/><circle cx="120.9" cy="220.3" r="0.8"/><circle cx="99.1" cy="204.6" r="0.7"/><circle cx="106.9" cy="223.1" r="0.7"/><circle cx="82.1" cy="174.9" r="0.7"/><circle cx="118.3" cy="186.3" r="0.5"/><circle cx="73.9" cy="209.0" r="0.4"/></g><path d="M40.9,85.7 C58,82 76,78 88,70 C94,66 98,65 104,66 C116,68 126,70 135.6,74 C126,73 116,72 106,71 C102,70.6 100,72 96,76 C88,84 76,91 64.3,94 Z" fill="#f4dcd2"/><path d="M99,112 C103,112 104,122 105,132 C107,148 109,162 107.6,172 C106.5,184 101,191.5 95.5,191.5 C89.5,191.5 84,184 83.8,172 C83.6,158 90,146 93,132 C95,122 96,112 99,112 Z" fill="#edbb8e"/><path d="M99,118 C101.5,118 102,126 102.8,134 C104.5,150 106,162 105,172 C104,182 100,188.5 95.5,188.5 C90.5,188.5 86.8,182 86.6,172 C86.4,160 92,148 94.8,134 C96.2,126 97,118 99,118 Z" fill="#a47a40"/><ellipse cx="95.5" cy="188.5" rx="4" ry="4.2" fill="#e9eef6"/><ellipse cx="95.5" cy="189" rx="2.8" ry="3.2" fill="#34509e"/><g fill="#f1ead2" stroke="#d9c06e" stroke-width="2.2"><circle cx="117" cy="126" r="5"/><circle cx="125" cy="132" r="5"/><circle cx="118" cy="140" r="5"/></g><g fill="#f4eedb"><circle cx="117" cy="126" r="4.4"/><circle cx="125" cy="132" r="4.4"/><circle cx="118" cy="140" r="4.4"/></g><g fill="#dfe6e2"><circle cx="118.5" cy="124.5" r="2"/><circle cx="126.5" cy="130.5" r="2"/><circle cx="119.5" cy="138.5" r="2"/></g><path d="M86,107 C86,94 94,86 104,86 C116,86 124,96 124,107 C124,120 114,130 104,130 C94,130 86,120 86,107 Z" fill="#e6b93c" stroke="#d4913a" stroke-width="1.6"/><g fill="#fbf0c8"><circle cx="96" cy="99" r="2.8"/><circle cx="108" cy="94" r="2.6"/><circle cx="101" cy="109" r="2.8"/><circle cx="113" cy="106" r="2.8"/><circle cx="94" cy="118" r="2.3"/><circle cx="106" cy="120" r="2.6"/><circle cx="116" cy="116" r="2"/></g><path d="M63.3,226.4 C80,218 100,208 120.5,198.7" stroke="#a8243a" stroke-width="1.9" fill="none"/><path d="M72.9,214.5 C95,206 114,198 131.6,189.9" stroke="#3f73bf" stroke-width="2.2" fill="none"/><path d="M84,216 C88,210 86,204 91,200 C95,197 98,195 96,191" stroke="#a8243a" stroke-width="1.6" fill="none"/><path d="M80,218 C86,212 90,206 94,202 C98,198 94,195 95,191" stroke="#4172c0" stroke-width="1.6" fill="none"/></g><path d="M540.4,447 L540.4,527.8 L548.4,527.8" stroke="#e08e9a" stroke-width="1.4" fill="none"/><circle cx="552.4" cy="528" r="5.5" fill="#bfe6f7" opacity="0.8"/><circle cx="552.4" cy="528" r="3.6" fill="#2f97d0"/></g>
</svg>
<div class="t" style="left:146px;top:205.5px">皮肤油脂<br>分泌过多</div>
<div class="t" style="left:422.5px;top:205.5px">毛孔通道不畅<br>油脂开始堵塞</div>
<div class="t" style="left:708px;top:205px">感染细菌<br>形成痔疮脓包</div>
<div class="t" style="left:266.5px;top:493px">痘痘感染<br>痘根逐渐形成</div>
<div class="t" style="left:564.5px;top:491.5px">痘根不除<br>痘痘反复生长</div>
</body></html>
